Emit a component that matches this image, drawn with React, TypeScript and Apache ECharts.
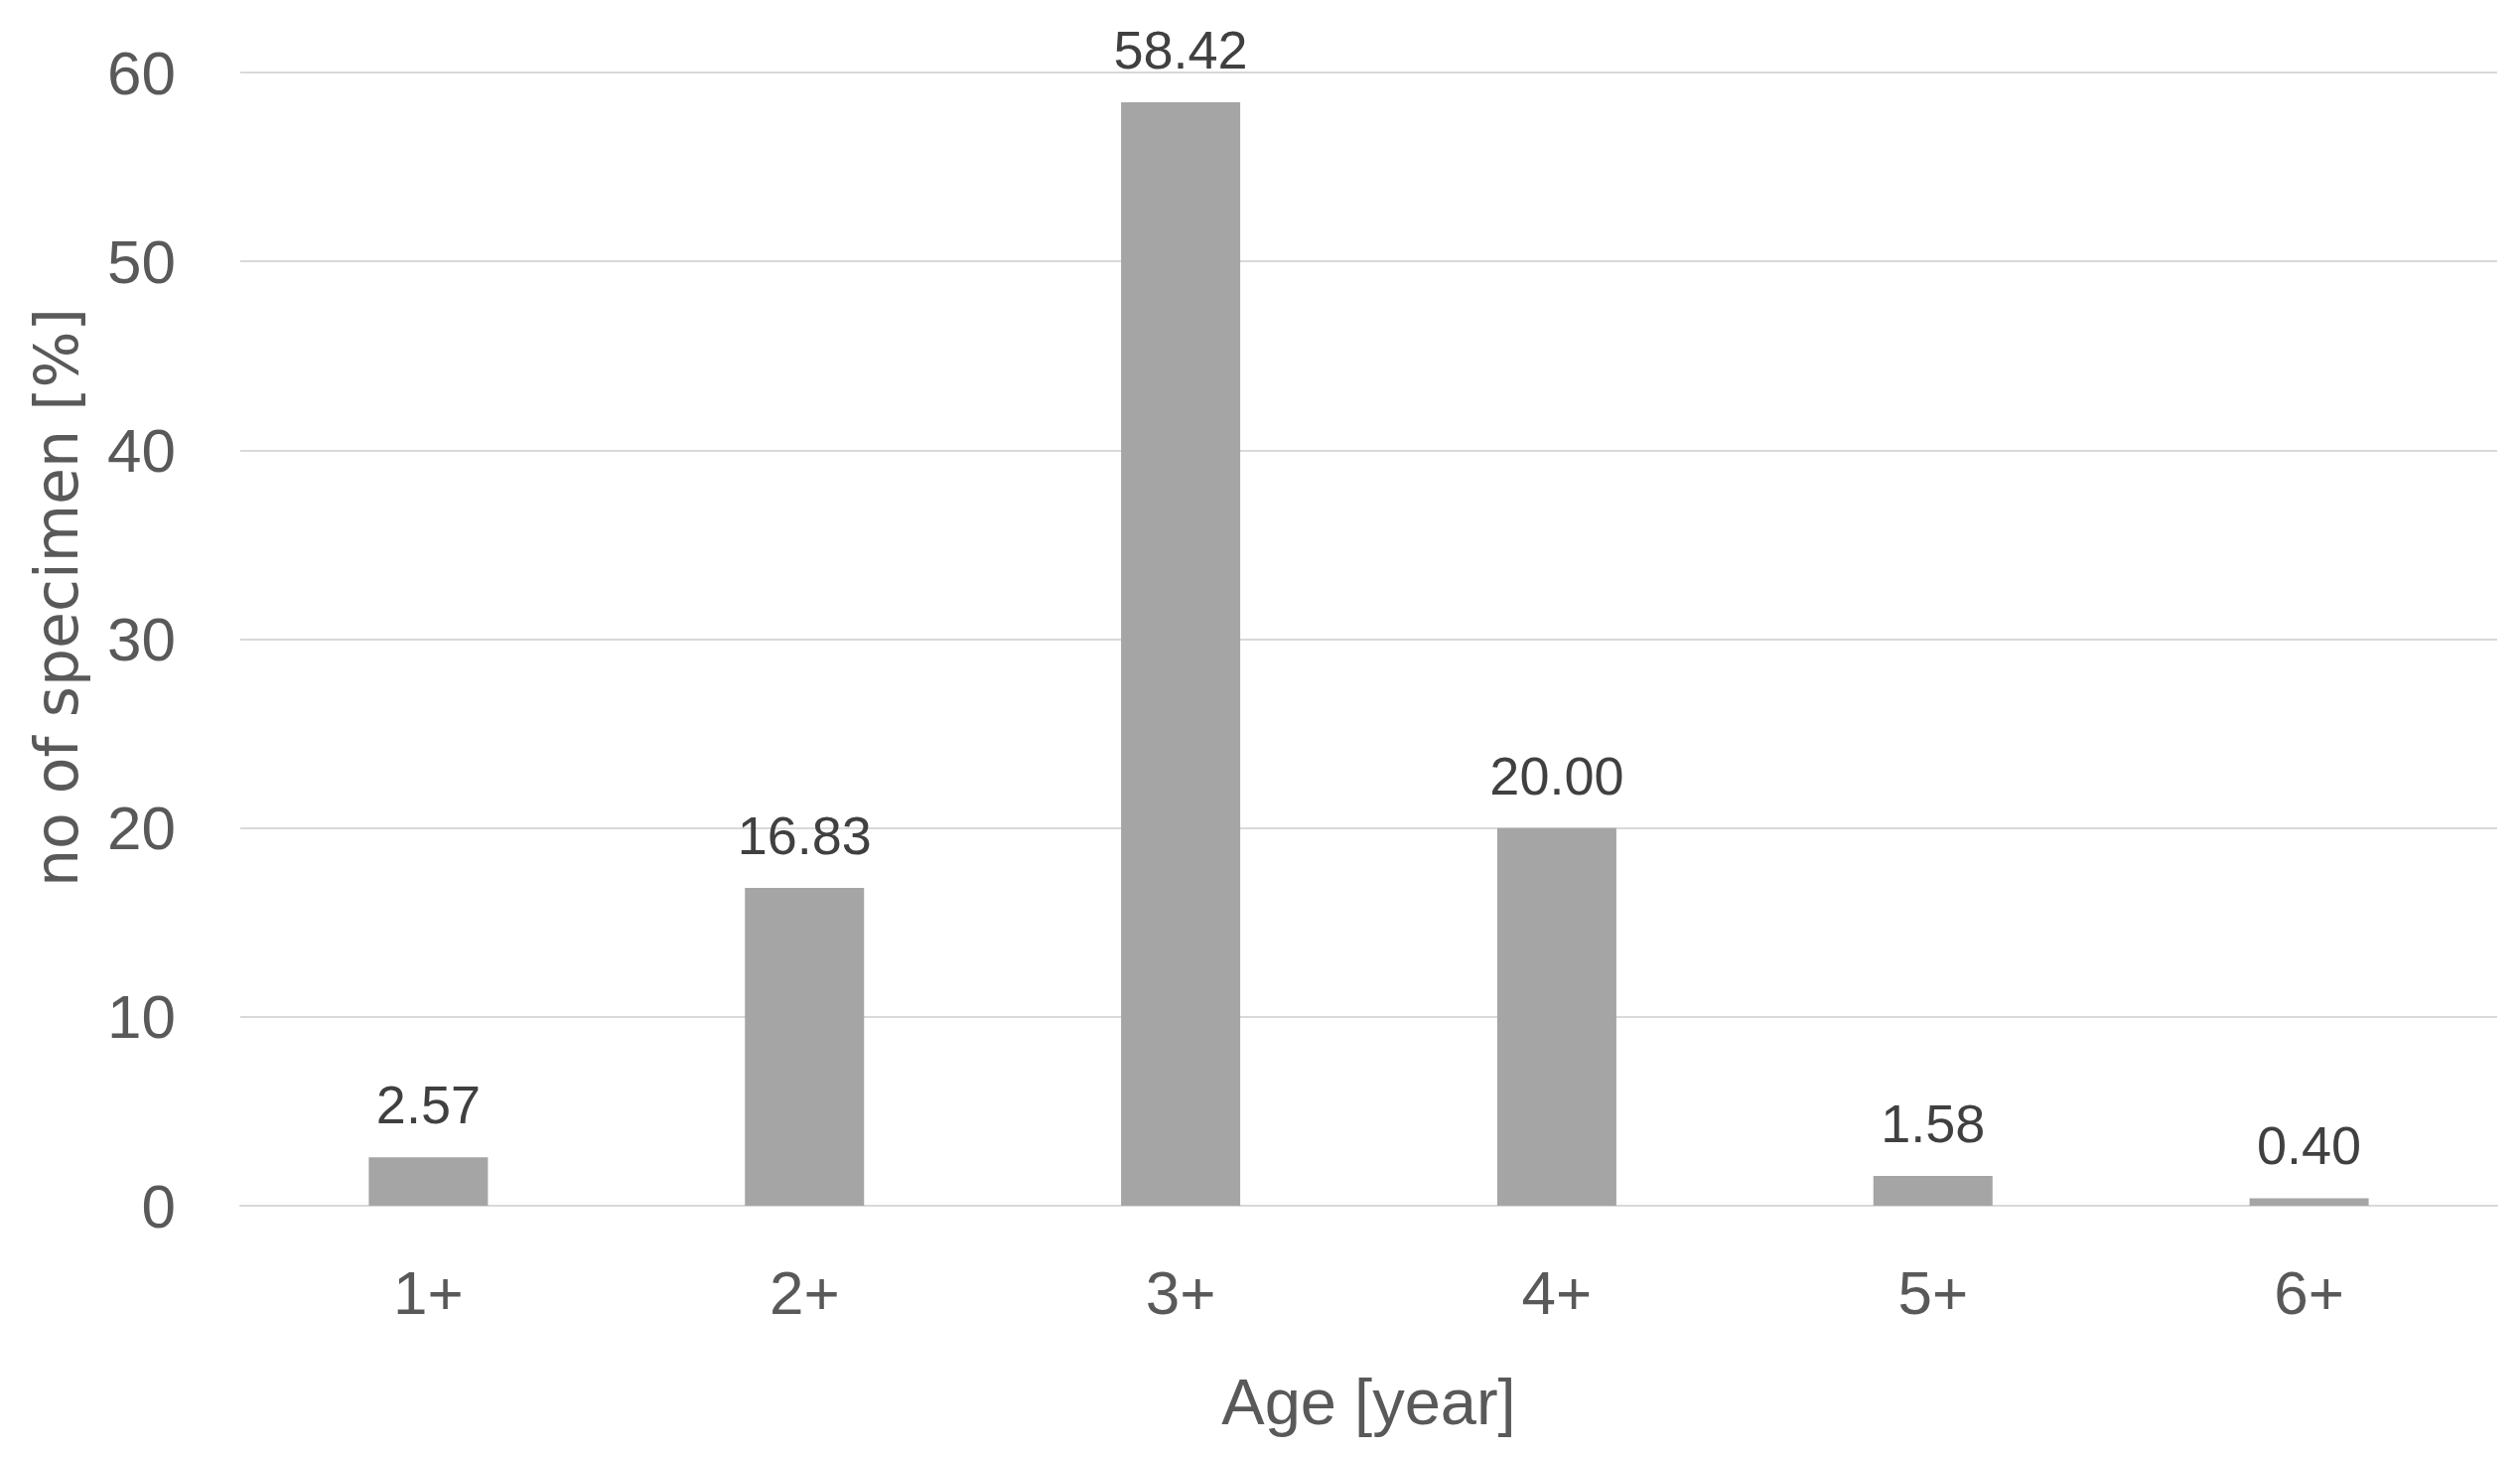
import React, { useEffect, useRef } from "react";
import * as echarts from "echarts";

const categories = ["1+", "2+", "3+", "4+", "5+", "6+"];
const values = [2.57, 16.83, 58.42, 20.0, 1.58, 0.4];
const yTicks = { min: 0, max: 60, interval: 10 };

const FONT = "'Liberation Sans', Arial, sans-serif";

export default function App() {
  const ref = useRef<HTMLDivElement>(null);
  useEffect(() => {
    if (!ref.current) return;
    const chart = echarts.init(ref.current, undefined, { renderer: "svg" });
    chart.setOption({
      animation: false,
      backgroundColor: "#ffffff",
      grid: { left: 242, right: 23, top: 73, bottom: 253, containLabel: false },
      xAxis: {
        type: "category",
        data: categories,
        name: "Age [year]",
        nameLocation: "middle",
        nameGap: 165,
        nameTextStyle: { fontFamily: FONT, fontSize: 65, color: "#595959" },
        axisLine: { show: true, lineStyle: { color: "#d9d9d9", width: 2 } },
        axisTick: { show: false },
        axisLabel: { fontFamily: FONT, fontSize: 62, color: "#595959", margin: 56 },
      },
      yAxis: {
        type: "value",
        min: yTicks.min,
        max: yTicks.max,
        interval: yTicks.interval,
        name: "no of specimen [%]",
        nameLocation: "middle",
        nameGap: 155,
        nameTextStyle: {
          fontFamily: "'DejaVu Sans', sans-serif",
          fontSize: 60,
          color: "#595959",
          padding: [0, 0, 0, 84],
        },
        axisLine: { show: false },
        axisTick: { show: false },
        splitLine: { lineStyle: { color: "#d9d9d9", width: 2 } },
        axisLabel: { fontFamily: FONT, fontSize: 62, color: "#595959", margin: 65 },
      },
      series: [
        {
          type: "bar",
          data: values,
          barWidth: 120,
          itemStyle: { color: "#a5a5a5" },
          label: {
            show: true,
            position: "top",
            distance: 26,
            fontFamily: FONT,
            fontSize: 54,
            color: "#404040",
            formatter: (p: any) => Number(p.value).toFixed(2),
          },
        },
      ],
    });
    return () => chart.dispose();
  }, []);
  return (
    <div
      ref={ref}
      style={{ position: "fixed", left: 0, top: 0, width: 2538, height: 1467, background: "#fff" }}
    />
  );
}
